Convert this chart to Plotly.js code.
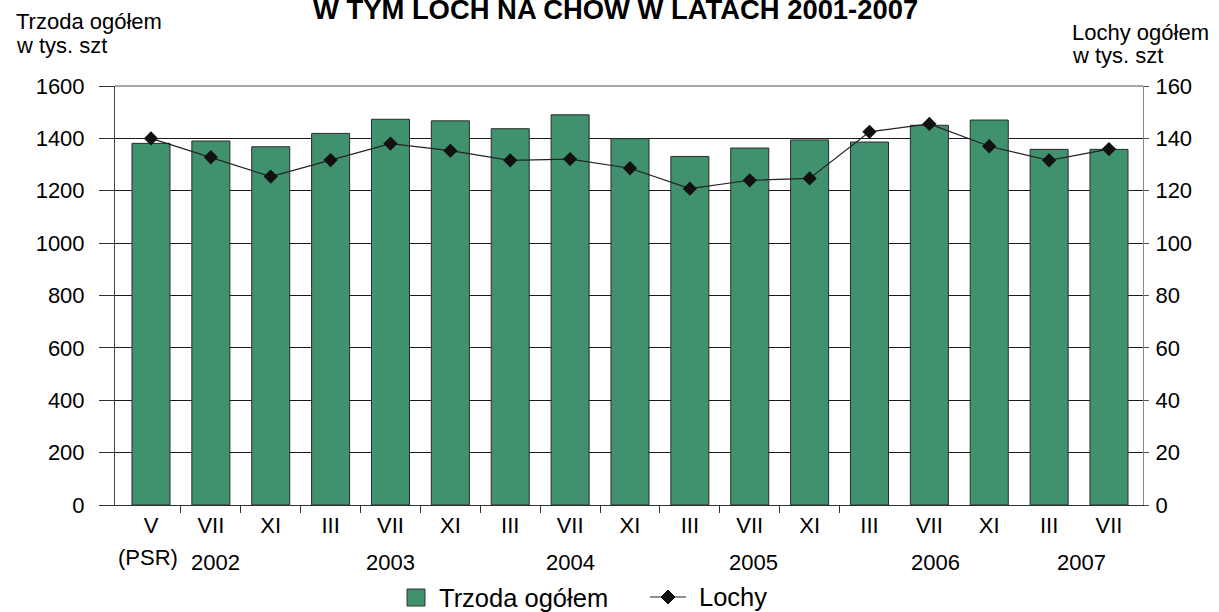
<!DOCTYPE html>
<html>
<head>
<meta charset="utf-8">
<script src="https://cdn.plot.ly/plotly-3.0.1.min.js"></script>
<style>html,body{margin:0;padding:0;background:#fff;}#chart{width:1219px;height:612px;}</style>
</head>
<body>
<div id="chart"></div>
<script>
// Categories (survey months) and year group labels
const months = ['V','VII','XI','III','VII','XI','III','VII','XI','III','VII','XI','III','VII','XI','III','VII'];
const yearLabels = ['2002','2003','2004','2005','2006','2007'];
const yearAt = [1.08, 4, 7, 10.06, 13.1, 15.54];
// Series values (thousand heads)
const trzoda = [1381,1390,1368,1419,1473,1467,1437,1490,1399,1331,1363,1394,1386,1450,1470,1358,1358];
const lochy  = [140.0,132.8,125.4,131.7,138.0,135.3,131.6,132.1,128.6,120.8,124.0,124.7,142.5,145.5,137.0,131.6,135.9];
const leftTicks = [0,200,400,600,800,1000,1200,1400,1600];
const rightTicks = [0,20,40,60,80,100,120,140,160];
const seriesNames = ['Trzoda ogółem', 'Lochy'];

const idx = months.map((m,i)=>i);
const FONT = 'Liberation Sans, Arial, sans-serif';
const BAR = '#40926e';

// pixel -> paper helpers (plot area 115..1143 x 86..505)
const L = 115, R = 1143, T = 86, B = 505;
const px = v => (v - L) / (R - L);
const py = v => (B - v) / (B - T);

const traces = [
  {type:'bar', name:seriesNames[0], x:idx, y:trzoda, width:0.635,
   marker:{color:BAR, line:{color:'#2a2a2a', width:1}}, yaxis:'y'},
  {type:'scatter', mode:'lines+markers', name:seriesNames[1], x:idx, y:lochy, yaxis:'y2',
   line:{color:'#222', width:1.2}, marker:{symbol:'diamond', size:11, color:'#111'}}
];

const txt = (text, x, y, size, anchor, extra) => Object.assign({
  text, x, y, xref:'paper', yref:'paper', showarrow:false, xanchor:anchor||'left', yanchor:'middle',
  font:{size:size||22, family:FONT, color:'#000'}}, extra||{});

const ann = [];
yearLabels.forEach((t,i)=>ann.push({text:t, x:yearAt[i], xref:'x', y:py(562), yref:'paper',
  showarrow:false, font:{size:22, family:FONT, color:'#000'}, xanchor:'center', yanchor:'middle'}));
ann.push({text:'(PSR)', x:-0.05, xref:'x', y:py(557), yref:'paper', showarrow:false,
  font:{size:22, family:FONT, color:'#000'}, xanchor:'center', yanchor:'middle'});
ann.push(txt('W TYM LOCH NA CHÓW W LATACH 2001-2007', px(615), py(9.5), 27.4, 'center', {font:{size:27.4, family:FONT, color:'#000', weight:'bold'}}));
ann.push(txt('Trzoda ogółem', px(14), py(21.6)));
ann.push(txt('w tys. szt', px(14), py(45.6)));
ann.push(txt('Lochy ogółem', px(1070), py(32.3)));
ann.push(txt('w tys. szt', px(1070), py(55.6)));
// legend texts
ann.push(txt(seriesNames[0], px(437), py(597.5), 25.5));
ann.push(txt(seriesNames[1], px(697), py(597), 25.5));

const legendShapes = [
  {type:'rect', xref:'paper', yref:'paper', x0:px(407), x1:px(425), y0:py(606), y1:py(589),
   fillcolor:BAR, line:{color:'#333', width:1}},
  {type:'line', xref:'paper', yref:'paper', x0:px(650), x1:px(686), y0:py(597), y1:py(597),
   line:{color:'#222', width:1.2}},
  {type:'path', xref:'paper', yref:'paper',
   path:`M${px(668)},${py(590)} L${px(675)},${py(597)} L${px(668)},${py(604)} L${px(661)},${py(597)} Z`,
   fillcolor:'#111', line:{color:'#111', width:1}}
];

const layout = {
  width:1219, height:612,
  margin:{l:L, r:1219-R, t:T, b:612-B, pad:0, autoexpand:false},
  paper_bgcolor:'#fff', plot_bgcolor:'#fff',
  font:{family:FONT, size:22, color:'#000'},
  showlegend:false,
  xaxis:{range:[-0.601, 16.568], tickmode:'array', tickvals:idx, ticktext:months,
         ticks:'', showline:true, linecolor:'#333', linewidth:1, showgrid:false, zeroline:false,
         ticklabelstandoff:1, tickfont:{size:22, family:FONT, color:'#000'},
         minor:{tickmode:'array', tickvals:[0.5,1.5,2.5,3.5,4.5,5.5,6.5,7.5,8.5,9.5,10.5,11.5],
                ticks:'outside', ticklen:7, tickcolor:'#333', tickwidth:1, showgrid:false}},
  yaxis:{range:[0,1600], tickmode:'array', tickvals:leftTicks, ticks:'outside', ticklen:15,
         tickcolor:'#333', showline:true, linecolor:'#444', linewidth:1, showgrid:true,
         gridcolor:'#1a1a1a', gridwidth:1, zeroline:false, ticklabelstandoff:10,
         tickfont:{size:22, family:FONT, color:'#000'}},
  yaxis2:{range:[0,160], tickmode:'array', tickvals:rightTicks, overlaying:'y', side:'right',
          ticks:'outside', ticklen:5, tickcolor:'#555', showline:true, linecolor:'#888', linewidth:1,
          showgrid:false, zeroline:false, ticklabelstandoff:2,
          tickfont:{size:22, family:FONT, color:'#000'}},
  shapes:[{type:'line', xref:'paper', yref:'paper', x0:0, x1:1, y0:1, y1:1, line:{color:'#8a8a8a', width:1.5}}]
         .concat(legendShapes),
  annotations:ann
};

Plotly.newPlot('chart', traces, layout, {staticPlot:true, displayModeBar:false});
</script>
</body>
</html>
